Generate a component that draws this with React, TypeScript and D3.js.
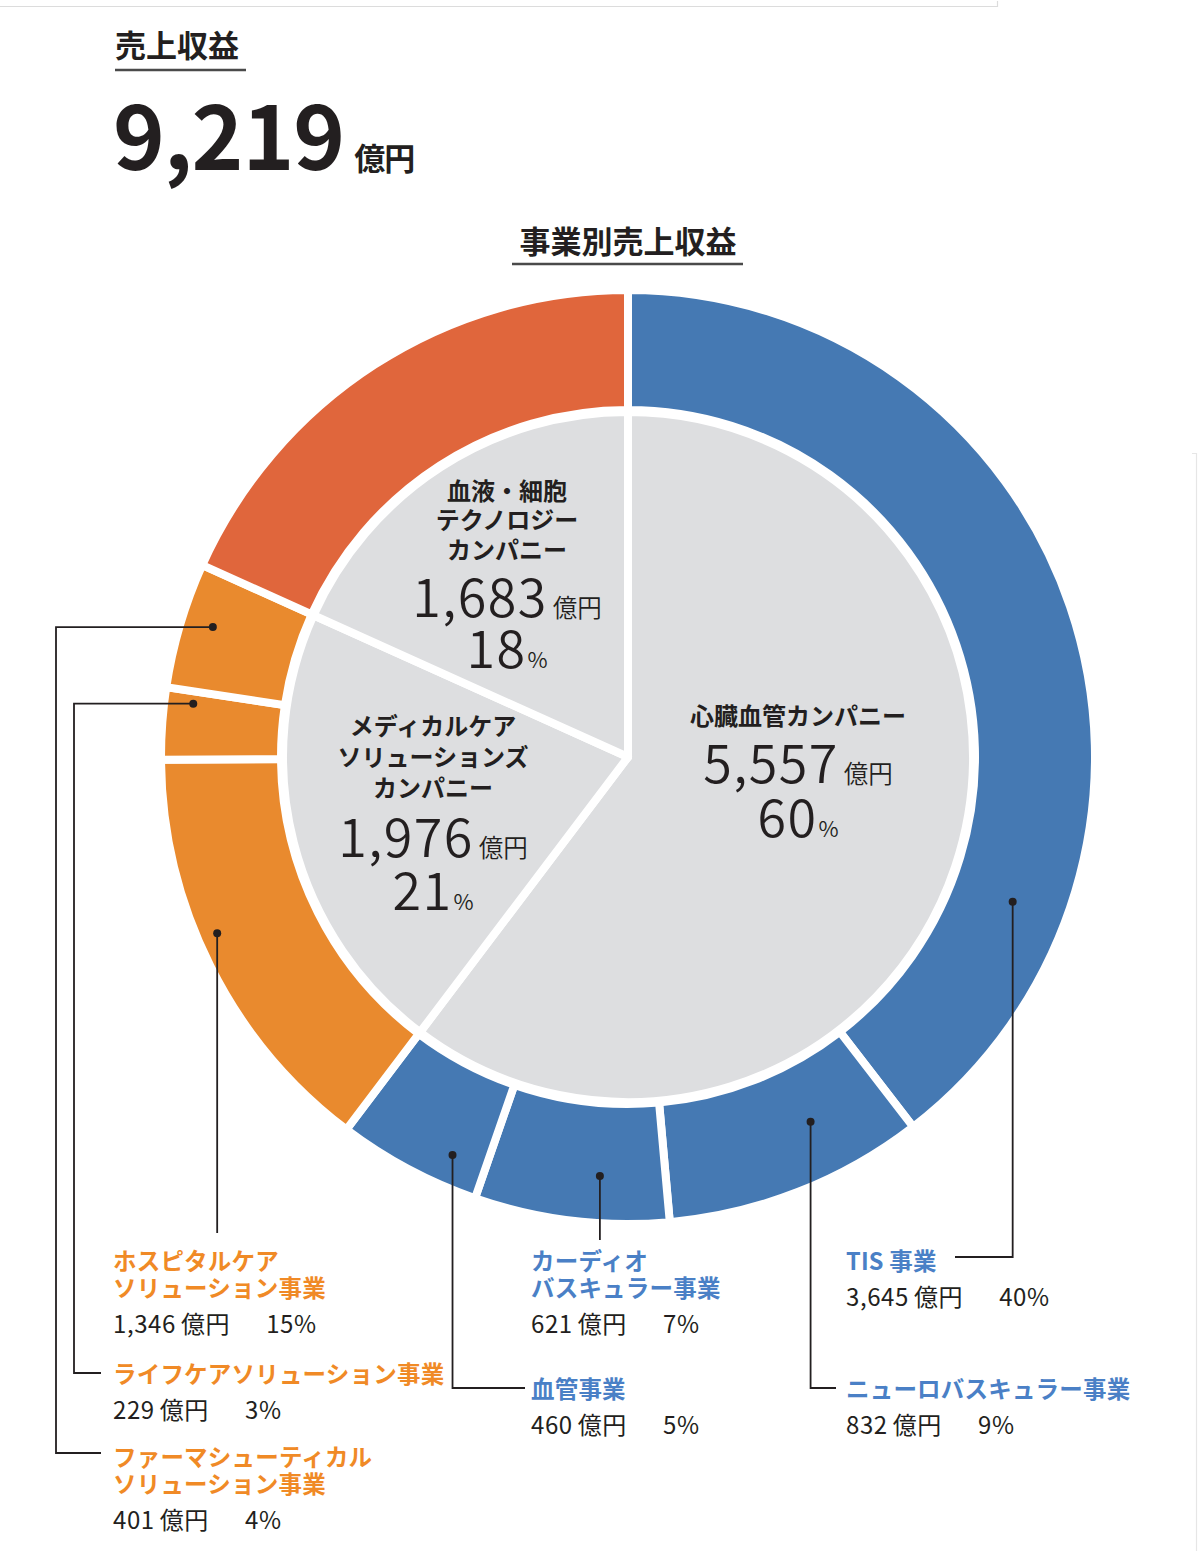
import React from "react";
import * as d3 from "d3";

// ---------- DATA ----------
const totalLabel = "9,219";
const innerNames = [
  ["心臓血管カンパニー"],
  ["メディカルケア", "ソリューションズ", "カンパニー"],
  ["血液・細胞", "テクノロジー", "カンパニー"],
];
const innerValues = [5557, 1976, 1683];
const innerPct = [60, 21, 18];

const outerNames = [
  ["TIS 事業"],
  ["ニューロバスキュラー事業"],
  ["カーディオ", "バスキュラー事業"],
  ["血管事業"],
  ["ホスピタルケア", "ソリューション事業"],
  ["ライフケアソリューション事業"],
  ["ファーマシューティカル", "ソリューション事業"],
  [],
];
const outerValues = [3645, 832, 621, 460, 1346, 229, 401, 1683];
const outerPct = [40, 9, 7, 5, 15, 3, 4, 18];
const outerGroup = ["blue", "blue", "blue", "blue", "orange", "orange", "orange", "red"];

// ---------- STYLE / LAYOUT ----------
const FONT = "'Noto Sans CJK JP', 'Noto Sans', sans-serif";
const fillColor: Record<string, string> = { blue: "#4579B3", orange: "#E98A2E", red: "#E0663C" };
const textColor: Record<string, string> = { blue: "#4A80C6", orange: "#F08A26", red: "#E0663C" };
const GRAY = "#DDDEE0";
const DARK = "#231F20";
const cx = 628, cy = 757;
const pieR = 345;
const ringIn = 347, ringOut = 467;

const innerLayout = [
  { x: 798, titleY: [714], numY: 783, pctY: 837 },
  { x: 433, titleY: [724, 755, 786], numY: 857, pctY: 910 },
  { x: 507, titleY: [489, 518, 548], numY: 617, pctY: 668 },
];

type Lead = { t: number; r: number; kind: string; lineY?: number; endX?: number; elbowX?: number; tx: number; ty: number };
const outerLayout: Lead[] = [
  { t: 0.777, r: 411, kind: "downLeft", lineY: 1257, endX: 955, tx: 846, ty: 1260 },
  { t: 0.34, r: 408, kind: "downRight", lineY: 1388, endX: 836, tx: 846, ty: 1388 },
  { t: 0.37, r: 420, kind: "down", lineY: 1240, tx: 531, ty: 1260 },
  { t: 0.26, r: 435, kind: "downRight", lineY: 1388, endX: 525, tx: 531, ty: 1388 },
  { t: 0.565, r: 447, kind: "down", lineY: 1233, tx: 113, ty: 1260 },
  { t: 0.82, r: 438, kind: "leftDownRight", elbowX: 74, lineY: 1373, endX: 101, tx: 113, ty: 1373 },
  { t: 0.56, r: 435, kind: "leftDownRight", elbowX: 56, lineY: 1453, endX: 101, tx: 113, ty: 1456 },
  { t: 0, r: 0, kind: "none", tx: 0, ty: 0 },
];

export default function App() {
  const pie = d3.pie<number>().sort(null).value((d) => d);
  const innerArcs = pie(innerValues);
  const outerArcs = pie(outerValues);
  const innerArc = d3.arc<d3.PieArcDatum<number>>().innerRadius(0).outerRadius(pieR);
  const outerArc = d3.arc<d3.PieArcDatum<number>>().innerRadius(ringIn).outerRadius(ringOut);
  const fmt = d3.format(",");

  const dotPos = (i: number) => {
    const a = outerArcs[i];
    const L = outerLayout[i];
    const ang = a.startAngle + (a.endAngle - a.startAngle) * L.t;
    return [cx + L.r * Math.sin(ang), cy - L.r * Math.cos(ang)];
  };

  const leaderPath = (i: number) => {
    const L = outerLayout[i];
    const [x, y] = dotPos(i);
    if (L.kind === "down") return `M${x},${y}V${L.lineY}`;
    if (L.kind === "downLeft" || L.kind === "downRight") return `M${x},${y}V${L.lineY}H${L.endX}`;
    if (L.kind === "leftDownRight") return `M${x},${y}H${L.elbowX}V${L.lineY}H${L.endX}`;
    return "";
  };

  return (
    <div style={{ position: "absolute", left: 0, top: 0 }}>
      <svg width={1200} height={1551} style={{ display: "block", background: "#fff" }} fontFamily={FONT}>
        <path d="M0,6.5H997.5V1" fill="none" stroke="#DCDCDC" strokeWidth={1.2} />
        <path d="M1192,453.5H1196.5V1551" fill="none" stroke="#E6E6E6" strokeWidth={1.2} />

        <text x={115} y={43} fontSize={31} fontWeight={700} fill={DARK} dominantBaseline="central">売上収益</text>
        <line x1={115} x2={246} y1={70} y2={70} stroke="#4a4a4a" strokeWidth={2.5} />
        <text x={113} y={170} fontSize={88} fontWeight={700} fill={DARK} letterSpacing={-1}>
          {totalLabel}
          <tspan fontSize={31} dx={10}>億円</tspan>
        </text>

        <text x={628} y={239} fontSize={31} fontWeight={700} fill={DARK} textAnchor="middle" dominantBaseline="central">事業別売上収益</text>
        <line x1={512} x2={743} y1={264} y2={264} stroke="#4a4a4a" strokeWidth={2.5} />

        <g transform={`translate(${cx},${cy})`}>
          {outerArcs.map((a, i) => (
            <path key={"o" + i} d={outerArc(a) || ""} fill={fillColor[outerGroup[i]]} stroke="#fff" strokeWidth={8} strokeLinejoin="miter" />
          ))}
          {innerArcs.map((a, i) => (
            <path key={"i" + i} d={innerArc(a) || ""} fill={GRAY} stroke="#fff" strokeWidth={8} strokeLinejoin="round" />
          ))}
        </g>

        {innerValues.map((v, i) => {
          const L = innerLayout[i];
          return (
            <g key={"il" + i} fill={DARK}>
              {innerNames[i].map((s, k) => (
                <text key={k} x={L.x} y={L.titleY[k]} fontSize={24} fontWeight={700} textAnchor="middle" dominantBaseline="central">{s}</text>
              ))}
              <text x={L.x} y={L.numY} textAnchor="middle" fontSize={52} fontWeight={350} letterSpacing={1.5}>
                {fmt(v)}
                <tspan fontSize={24.5} dx={5} letterSpacing={0}>億円</tspan>
              </text>
              <text x={L.x} y={L.pctY} textAnchor="middle" fontSize={52} fontWeight={350} letterSpacing={1.5}>
                {innerPct[i]}
                <tspan fontSize={22} dx={1} letterSpacing={0}>%</tspan>
              </text>
            </g>
          );
        })}

        {outerValues.map((v, i) => {
          const L = outerLayout[i];
          if (L.kind === "none") return null;
          const [x, y] = dotPos(i);
          return (
            <g key={"ld" + i}>
              <path d={leaderPath(i)} fill="none" stroke={DARK} strokeWidth={1.8} />
              <circle cx={x} cy={y} r={4} fill={DARK} />
            </g>
          );
        })}

        {outerValues.map((v, i) => {
          const L = outerLayout[i];
          if (L.kind === "none") return null;
          const names = outerNames[i];
          return (
            <g key={"ol" + i}>
              {names.map((s, k) => (
                <text key={k} x={L.tx} y={L.ty + k * 27} fontSize={23.5} fontWeight={700} letterSpacing={0.2} fill={textColor[outerGroup[i]]} dominantBaseline="central">{s}</text>
              ))}
              <text x={L.tx} y={L.ty + (names.length - 1) * 27 + 35} fontSize={24} fill={DARK} dominantBaseline="central" letterSpacing={0.6}>
                {fmt(v)}
                <tspan dx={5}>億円</tspan>
                <tspan dx={36}>{outerPct[i]}%</tspan>
              </text>
            </g>
          );
        })}
      </svg>
    </div>
  );
}
